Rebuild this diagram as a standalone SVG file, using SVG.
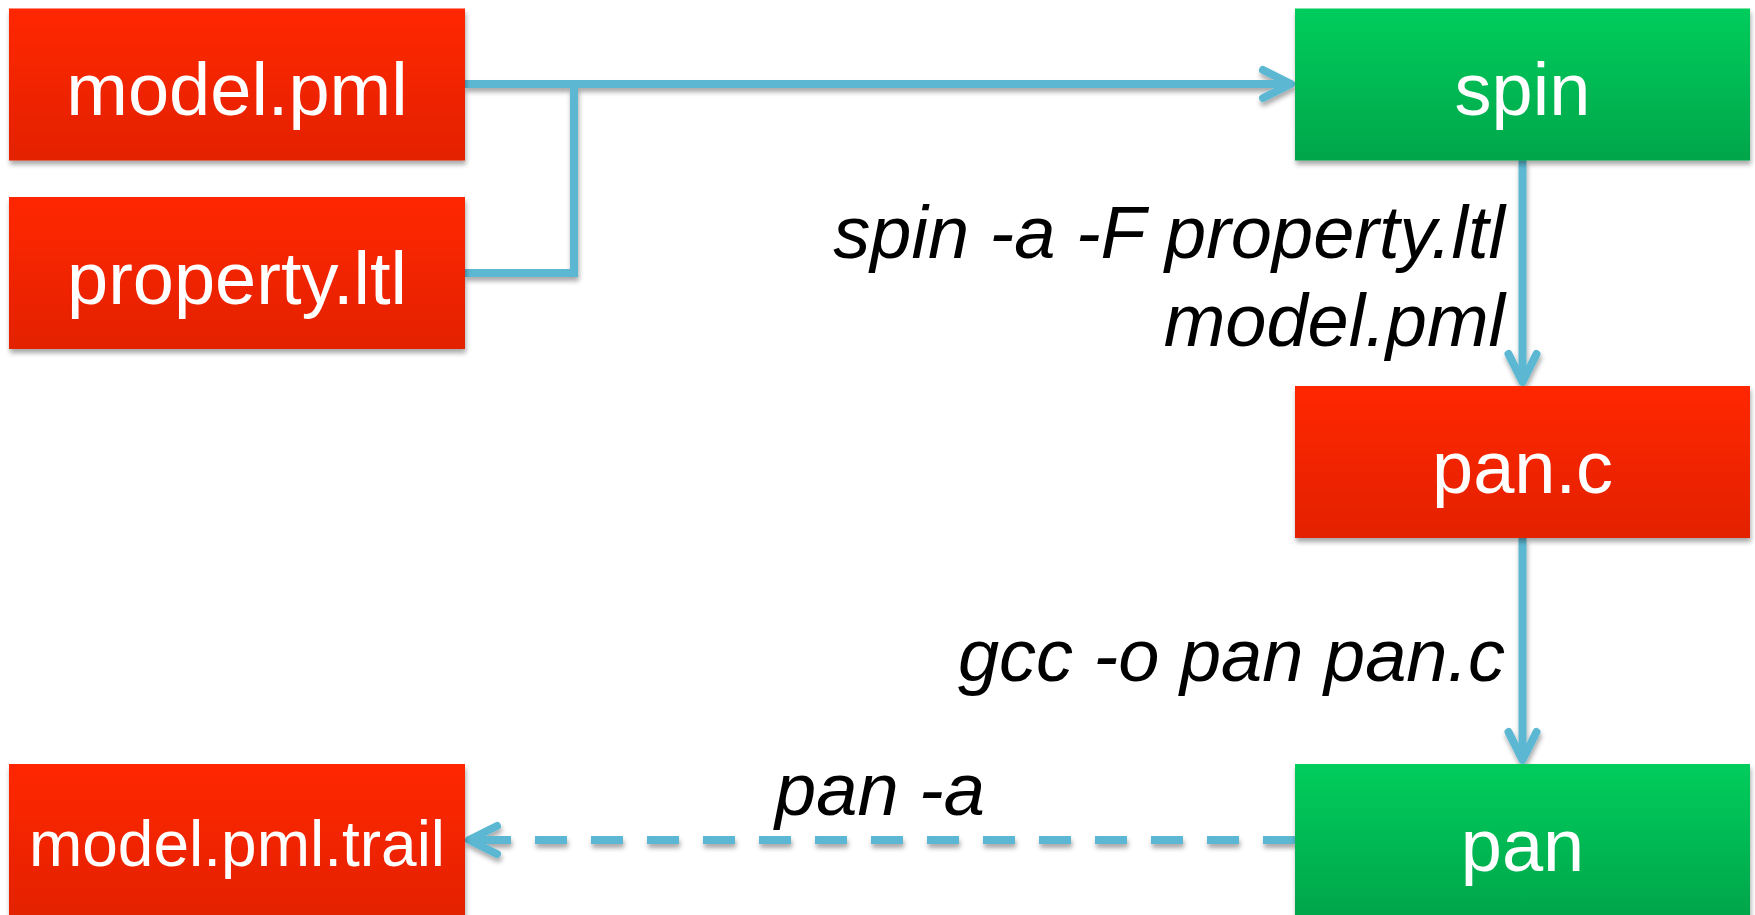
<svg xmlns="http://www.w3.org/2000/svg" width="1755" height="915" viewBox="0 0 1755 915">
  <defs>
    <linearGradient id="redFill" x1="0" y1="0" x2="0" y2="1">
      <stop offset="0" stop-color="#ff2600"/>
      <stop offset="1" stop-color="#e32300"/>
    </linearGradient>
    <linearGradient id="greenFill" x1="0" y1="0" x2="0" y2="1">
      <stop offset="0" stop-color="#00cd5c"/>
      <stop offset="1" stop-color="#00a64a"/>
    </linearGradient>
    <filter id="softShadow" x="-10%" y="-10%" width="120%" height="130%">
      <feGaussianBlur in="SourceAlpha" stdDeviation="2.5"/>
      <feOffset dx="1" dy="4" result="blur"/>
      <feComponentTransfer><feFuncA type="linear" slope="0.35"/></feComponentTransfer>
      <feMerge><feMergeNode/><feMergeNode in="SourceGraphic"/></feMerge>
    </filter>
    <marker id="chevron" markerUnits="userSpaceOnUse" markerWidth="60" markerHeight="60" refX="0" refY="0" orient="auto" viewBox="-40 -30 60 60" overflow="visible">
      <path d="M -28 -14 L 0 0 L -28 14" fill="none" stroke="#5bb8d2" stroke-width="8" stroke-linecap="round" stroke-linejoin="round"/>
    </marker>
    <style>
      .box-red { fill: url(#redFill); }
      .box-green { fill: url(#greenFill); }
      .node { filter: url(#softShadow); }
      .label { font-family: "Liberation Sans", Arial, Helvetica, sans-serif; fill: #ffffff; font-size: 74px; text-anchor: middle; }
      .cmd { font-family: "Liberation Sans", Arial, Helvetica, sans-serif; fill: #000000; font-size: 74px; font-style: italic; }
      .wire { fill: none; stroke: #5bb8d2; stroke-width: 8; }
    </style>
  </defs>

  <rect width="1755" height="915" fill="#ffffff"/>

  <!-- connectors -->
  <g id="connectors" filter="url(#softShadow)">
    <path class="wire" d="M 465 84 L 1291 84" marker-end="url(#chevron)"/>
    <path class="wire" d="M 465 273 L 574 273 L 574 84"/>
    <path class="wire" d="M 1522.5 160 L 1522.5 382" marker-end="url(#chevron)"/>
    <path class="wire" d="M 1522.5 538 L 1522.5 760" marker-end="url(#chevron)"/>
    <path class="wire" d="M 1295 840 L 469 840" stroke-dasharray="32 24"/>
    <path class="wire" d="M 500 840 L 469 840" marker-end="url(#chevron)"/>
  </g>

  <!-- command labels -->
  <g id="labels">
    <text class="cmd" x="1505" y="258" text-anchor="end">spin -a -F property.ltl</text>
    <text class="cmd" x="1505" y="346" text-anchor="end">model.pml</text>
    <text class="cmd" x="1505" y="681" text-anchor="end">gcc -o pan pan.c</text>
    <text class="cmd" x="880" y="815" text-anchor="middle">pan -a</text>
  </g>

  <!-- nodes -->
  <g id="node-model-pml" class="node">
    <rect class="box-red" x="9" y="8.5" width="456" height="152"/>
    <text class="label" x="237" y="115">model.pml</text>
  </g>
  <g id="node-property-ltl" class="node">
    <rect class="box-red" x="9" y="197" width="456" height="152"/>
    <text class="label" x="237" y="304">property.ltl</text>
  </g>
  <g id="node-spin" class="node">
    <rect class="box-green" x="1295" y="8.5" width="455" height="152"/>
    <text class="label" x="1522.5" y="115">spin</text>
  </g>
  <g id="node-pan-c" class="node">
    <rect class="box-red" x="1295" y="386" width="455" height="152"/>
    <text class="label" x="1522.5" y="493">pan.c</text>
  </g>
  <g id="node-pan" class="node">
    <rect class="box-green" x="1295" y="764" width="455" height="152"/>
    <text class="label" x="1522.5" y="871">pan</text>
  </g>
  <g id="node-trail" class="node">
    <rect class="box-red" x="9" y="764" width="456" height="152"/>
    <text class="label" x="237" y="866" style="font-size:64px">model.pml.trail</text>
  </g>
</svg>
